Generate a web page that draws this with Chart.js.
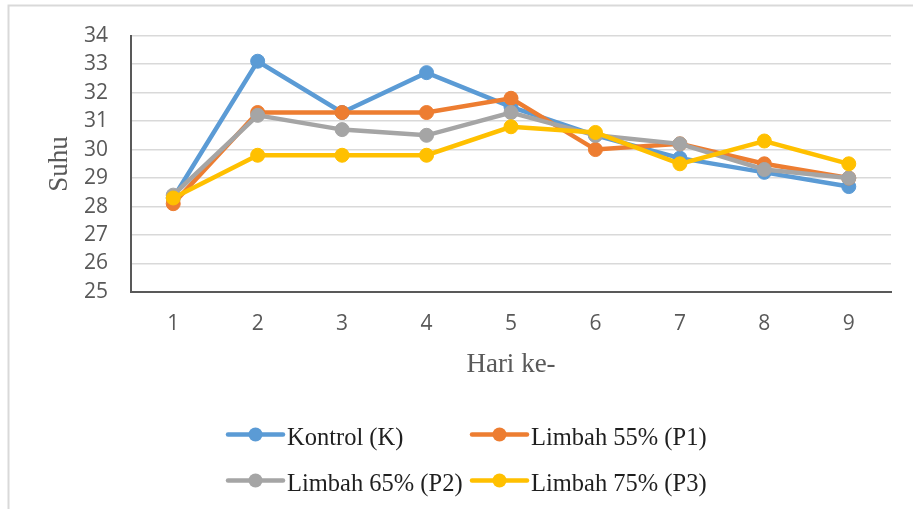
<!DOCTYPE html>
<html>
<head>
<meta charset="utf-8">
<script src="https://cdn.jsdelivr.net/npm/chart.js@4.4.1/dist/chart.umd.min.js"></script>
<style>
  html, body { margin: 0; padding: 0; background: #ffffff; }
  #wrap { position: relative; width: 913px; height: 509px; overflow: hidden; }
  canvas { display: block; }
</style>
</head>
<body>
<div id="wrap"><canvas id="chart" width="913" height="509"></canvas></div>
<script>
// Daily temperature (Suhu) per treatment
const days = ['1', '2', '3', '4', '5', '6', '7', '8', '9'];
const kontrolK  = [28.3, 33.1, 31.3, 32.7, 31.5, 30.5, 29.7, 29.2, 28.7];
const limbah55  = [28.1, 31.3, 31.3, 31.3, 31.8, 30.0, 30.2, 29.5, 29.0];
const limbah65  = [28.4, 31.2, 30.7, 30.5, 31.3, 30.5, 30.2, 29.3, 29.0];
const limbah75  = [28.3, 29.8, 29.8, 29.8, 30.8, 30.6, 29.5, 30.3, 29.5];
const yTickValues = [25, 26, 27, 28, 29, 30, 31, 32, 33, 34];
const seriesNames = ['Kontrol (K)', 'Limbah 55% (P1)', 'Limbah 65% (P2)', 'Limbah 75% (P3)'];
const seriesColors = ['#5B9BD5', '#ED7D31', '#A5A5A5', '#FFC000'];
const yTitle = 'Suhu';
const xTitle = 'Hari ke-';

const seriesValues = [kontrolK, limbah55, limbah65, limbah75];

const datasets = seriesValues.map((vals, i) => ({
  label: seriesNames[i],
  data: vals,
  borderColor: seriesColors[i],
  backgroundColor: seriesColors[i],
  pointBackgroundColor: seriesColors[i],
  pointBorderColor: seriesColors[i],
  borderWidth: 4.5,
  pointRadius: 7,
  pointBorderWidth: 1,
  tension: 0,
  order: seriesValues.length - i   // later series sit on top
}));

const SERIF = "'Liberation Serif', 'Times New Roman', serif";

// Frame, axis titles and a two-column legend
const decorations = {
  id: 'decorations',
  beforeDraw(chart) {
    const ctx = chart.ctx;
    ctx.save();
    ctx.fillStyle = '#ffffff';
    ctx.fillRect(0, 0, chart.width, chart.height);
    ctx.strokeStyle = '#d9d9d9';
    ctx.lineWidth = 2;
    ctx.beginPath();
    ctx.moveTo(8.5, chart.height + 5);
    ctx.lineTo(8.5, 5.5);
    ctx.lineTo(chart.width + 5, 5.5);
    ctx.stroke();
    ctx.restore();
  },
  afterDraw(chart) {
    const ctx = chart.ctx;
    const area = chart.chartArea;
    ctx.save();
    // axis titles
    ctx.fillStyle = '#595959';
    ctx.font = '27px ' + SERIF;
    ctx.textAlign = 'center';
    ctx.textBaseline = 'alphabetic';
    ctx.fillText(xTitle, (area.left + area.right) / 2, 371.5);
    ctx.translate(67, 164);
    ctx.rotate(-Math.PI / 2);
    ctx.fillText(yTitle, 0, 0);
    ctx.restore();

    // legend
    const colX = [228, 472];
    const rowY = [434.5, 480.5];
    ctx.save();
    ctx.font = '24.5px ' + SERIF;
    ctx.textAlign = 'left';
    ctx.textBaseline = 'alphabetic';
    seriesNames.forEach((name, i) => {
      const x = colX[i % 2];
      const y = rowY[Math.floor(i / 2)];
      ctx.strokeStyle = seriesColors[i];
      ctx.lineWidth = 4.5;
      ctx.lineCap = 'round';
      ctx.beginPath();
      ctx.moveTo(x, y);
      ctx.lineTo(x + 55, y);
      ctx.stroke();
      ctx.fillStyle = seriesColors[i];
      ctx.beginPath();
      ctx.arc(x + 27.5, y, 7, 0, Math.PI * 2);
      ctx.fill();
      ctx.fillStyle = '#1f1f1f';
      ctx.fillText(name, x + 59, y + 10);
    });
    ctx.restore();
  }
};

new Chart(document.getElementById('chart'), {
  type: 'line',
  data: { labels: days, datasets },
  options: {
    responsive: false,
    animation: false,
    events: [],
    layout: { padding: { top: 35, right: 22, left: 0, bottom: 0 } },
    plugins: { legend: { display: false }, tooltip: { enabled: false }, title: { display: false } },
    scales: {
      x: {
        offset: true,
        grid: { display: false, drawTicks: false },
        border: { display: true, color: '#595959', width: 2 },
        ticks: {
          color: '#595959',
          font: { family: "'Open Sans', sans-serif", size: 21 },
          padding: 19,
          maxRotation: 0
        },
        afterFit(scale) { scale.height = 217; }
      },
      y: {
        min: yTickValues[0],
        max: yTickValues[yTickValues.length - 1],
        afterBuildTicks(scale) { scale.ticks = yTickValues.map(v => ({ value: v })); },
        grid: { color: '#d9d9d9', lineWidth: 1.5, drawTicks: false },
        border: { display: true, color: '#595959', width: 2 },
        ticks: {
          color: '#595959',
          font: { family: "'Open Sans', sans-serif", size: 21 },
          padding: 23
        },
        afterFit(scale) { scale.width = 131; }
      }
    }
  },
  plugins: [decorations]
});
</script>
</body>
</html>
